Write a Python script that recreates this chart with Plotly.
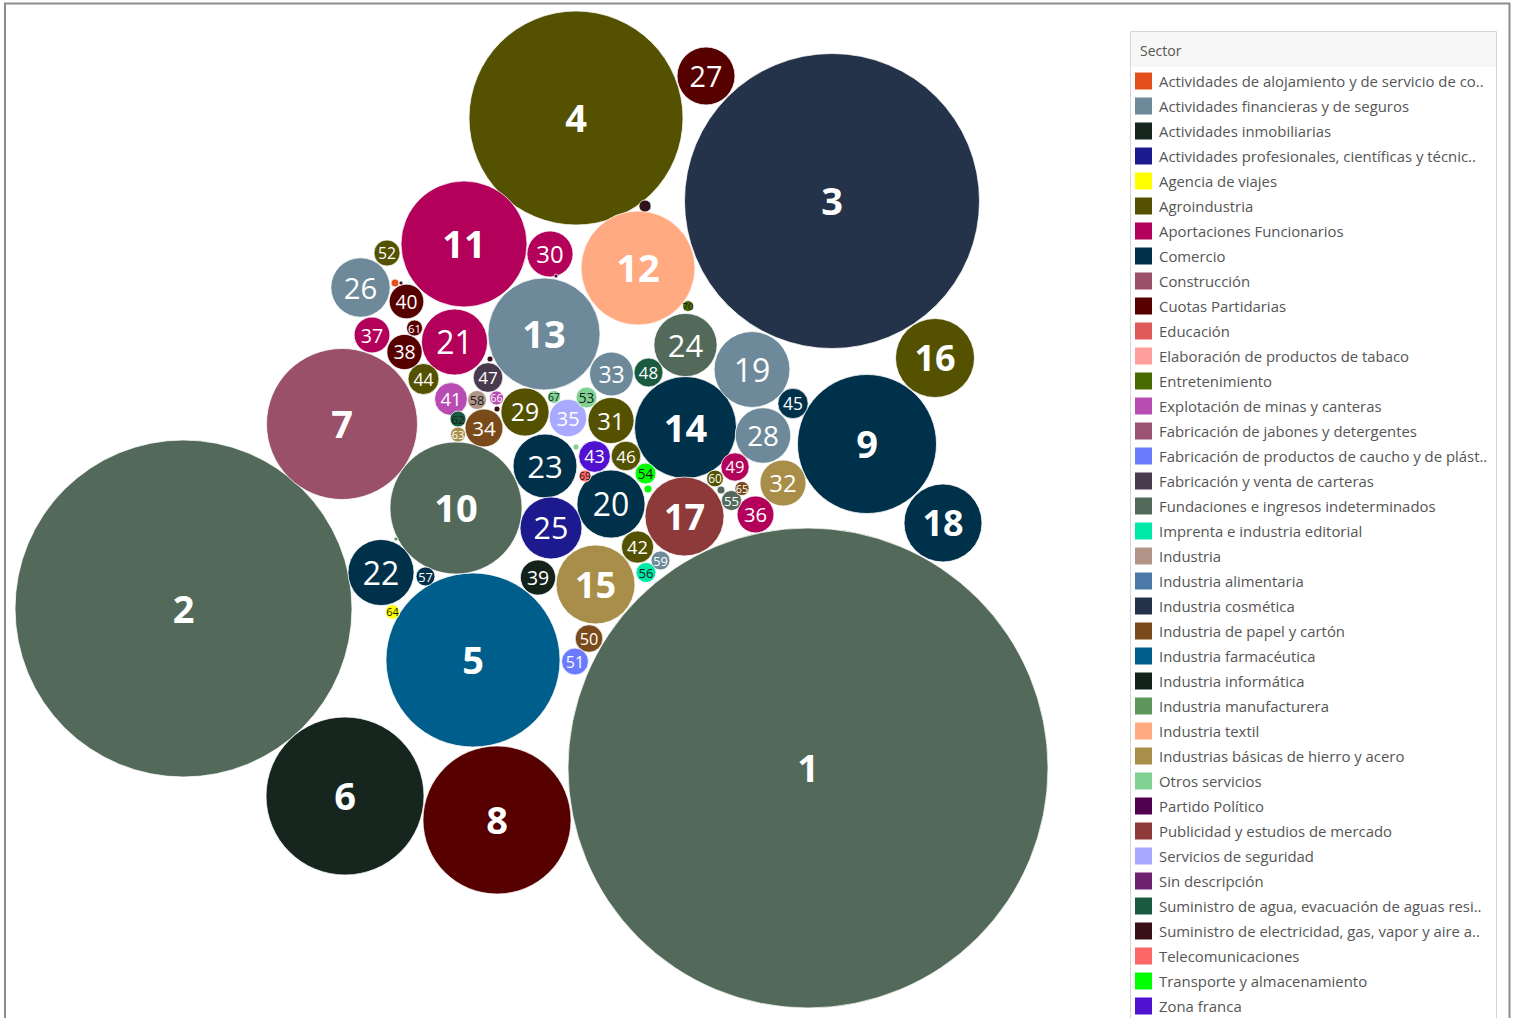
import math
import plotly.graph_objects as go

# ---------------- Legend / sector data ----------------
sectors = [
    "Actividades de alojamiento y de servicio de co..",
    "Actividades financieras y de seguros",
    "Actividades inmobiliarias",
    "Actividades profesionales, científicas y técnic..",
    "Agencia de viajes",
    "Agroindustria",
    "Aportaciones Funcionarios",
    "Comercio",
    "Construcción",
    "Cuotas Partidarias",
    "Educación",
    "Elaboración de productos de tabaco",
    "Entretenimiento",
    "Explotación de minas y canteras",
    "Fabricación de jabones y detergentes",
    "Fabricación de productos de caucho y de plást..",
    "Fabricación y venta de carteras",
    "Fundaciones e ingresos indeterminados",
    "Imprenta e industria editorial",
    "Industria",
    "Industria alimentaria",
    "Industria cosmética",
    "Industria de papel y cartón",
    "Industria farmacéutica",
    "Industria informática",
    "Industria manufacturera",
    "Industria textil",
    "Industrias básicas de hierro y acero",
    "Otros servicios",
    "Partido Político",
    "Publicidad y estudios de mercado",
    "Servicios de seguridad",
    "Sin descripción",
    "Suministro de agua, evacuación de aguas resi..",
    "Suministro de electricidad, gas, vapor y aire a..",
    "Telecomunicaciones",
    "Transporte y almacenamiento",
    "Zona franca",
]
sector_colors = [
    "#E4501B", "#6E8A9A", "#16261F", "#1C1A8E", "#FFFF00", "#545200",
    "#B3005A", "#00314A", "#9A5068", "#560000", "#E05A5C", "#FF9E9C",
    "#486A00", "#B84CB2", "#9C5272", "#6B7BFF", "#4A3A4E", "#536A5A",
    "#00E8A8", "#B09488", "#4C7AA8", "#243349", "#7A4A1A", "#005E8C",
    "#13221A", "#5E965C", "#FFAA80", "#A88E48", "#80D192", "#50004E",
    "#8E3A3A", "#A9A9FF", "#6C2270", "#1A5A40", "#3A1018", "#FF6666",
    "#00FF00", "#5012D0",
]

# ---------------- Bubble data ----------------
bubble_rank = list(range(1, 71)) + [None] * 9
bubble_sector = [
    "Fundaciones e ingresos indeterminados",          # 1
    "Fundaciones e ingresos indeterminados",          # 2
    "Industria cosmética",                            # 3
    "Agroindustria",                                  # 4
    "Industria farmacéutica",                         # 5
    "Actividades inmobiliarias",                      # 6
    "Construcción",                                   # 7
    "Cuotas Partidarias",                             # 8
    "Comercio",                                       # 9
    "Fundaciones e ingresos indeterminados",          # 10
    "Aportaciones Funcionarios",                      # 11
    "Industria textil",                               # 12
    "Actividades financieras y de seguros",           # 13
    "Comercio",                                       # 14
    "Industrias básicas de hierro y acero",           # 15
    "Agroindustria",                                  # 16
    "Publicidad y estudios de mercado",               # 17
    "Comercio",                                       # 18
    "Actividades financieras y de seguros",           # 19
    "Comercio",                                       # 20
    "Aportaciones Funcionarios",                      # 21
    "Comercio",                                       # 22
    "Comercio",                                       # 23
    "Fundaciones e ingresos indeterminados",          # 24
    "Actividades profesionales, científicas y técnic..",  # 25
    "Actividades financieras y de seguros",           # 26
    "Cuotas Partidarias",                             # 27
    "Actividades financieras y de seguros",           # 28
    "Agroindustria",                                  # 29
    "Aportaciones Funcionarios",                      # 30
    "Agroindustria",                                  # 31
    "Industrias básicas de hierro y acero",           # 32
    "Actividades financieras y de seguros",           # 33
    "Industria de papel y cartón",                    # 34
    "Servicios de seguridad",                         # 35
    "Aportaciones Funcionarios",                      # 36
    "Aportaciones Funcionarios",                      # 37
    "Cuotas Partidarias",                             # 38
    "Industria informática",                          # 39
    "Cuotas Partidarias",                             # 40
    "Explotación de minas y canteras",                # 41
    "Agroindustria",                                  # 42
    "Zona franca",                                    # 43
    "Agroindustria",                                  # 44
    "Comercio",                                       # 45
    "Agroindustria",                                  # 46
    "Fabricación y venta de carteras",                # 47
    "Suministro de agua, evacuación de aguas resi..", # 48
    "Aportaciones Funcionarios",                      # 49
    "Industria de papel y cartón",                    # 50
    "Fabricación de productos de caucho y de plást..",  # 51
    "Agroindustria",                                  # 52
    "Otros servicios",                                # 53
    "Transporte y almacenamiento",                    # 54
    "Fundaciones e ingresos indeterminados",          # 55
    "Imprenta e industria editorial",                 # 56
    "Comercio",                                       # 57
    "Industria",                                      # 58
    "Actividades financieras y de seguros",           # 59
    "Agroindustria",                                  # 60
    "Cuotas Partidarias",                             # 61
    "Suministro de agua, evacuación de aguas resi..", # 62
    "Industrias básicas de hierro y acero",           # 63
    "Agencia de viajes",                              # 64
    "Industria de papel y cartón",                    # 65
    "Explotación de minas y canteras",                # 66
    "Otros servicios",                                # 67
    "Suministro de electricidad, gas, vapor y aire a..",  # 68
    "Telecomunicaciones",                             # 69
    "Entretenimiento",                                # 70
    "Actividades de alojamiento y de servicio de co..",
    "Suministro de electricidad, gas, vapor y aire a..",
    "Suministro de electricidad, gas, vapor y aire a..",
    "Suministro de electricidad, gas, vapor y aire a..",
    "Otros servicios",
    "Transporte y almacenamiento",
    "Fundaciones e ingresos indeterminados",
    "Industria manufacturera",
    "Partido Político",
]
# area-proportional amounts
bubble_value = [
    576.0, 283.9, 217.6, 114.5, 75.7, 62.4, 57.0, 54.8, 48.3, 43.6,
    39.7, 32.5, 31.4, 26.0, 15.6, 15.6, 15.6, 15.2, 14.4, 11.6,
    10.9, 10.9, 10.2, 10.0, 9.6, 8.8, 8.4, 7.7, 5.8, 5.3,
    5.3, 5.3, 4.8, 3.6, 3.5, 3.4, 3.2, 3.1, 3.1, 3.0,
    2.7, 2.6, 2.5, 2.4, 2.3, 2.2, 2.2, 2.1, 2.0, 1.9,
    1.8, 1.7, 1.1, 1.1, 1.0, 1.0, 0.9, 0.9, 0.9, 0.7,
    0.64, 0.64, 0.56, 0.53, 0.5, 0.5, 0.42, 0.36, 0.36, 0.3,
    0.16, 0.04, 0.09, 0.09, 0.09, 0.16, 0.16, 0.04, 0.04,
]
# packed layout positions
bubble_x = [
    808, 183.5, 832, 576, 473, 345, 342, 497, 867, 456,
    464, 638, 544, 685.5, 595.5, 935, 684.5, 943, 752, 611,
    454.5, 381, 545, 685.5, 551, 360.5, 706, 763, 525, 550,
    611, 783, 611.5, 484, 568, 755.5, 372, 404.5, 538, 406.5,
    451, 637.5, 594.5, 423.5, 793, 626, 488, 648.5, 735, 589,
    575, 387, 586.5, 645.5, 731.5, 646, 425.5, 477, 660.5, 715,
    414.5, 458, 458, 392.5, 742, 496.5, 554, 645, 585, 688,
    395, 401, 490, 497, 576, 648, 721, 396, 556,
]
bubble_y = [
    768, 608.5, 201, 118, 660, 796, 424, 820, 444, 508,
    244, 268, 334, 427.5, 584.5, 358, 516.5, 523, 369.5, 504,
    342, 572.5, 466, 345, 528, 287.5, 76, 435.5, 412, 254,
    420.5, 483, 374, 428, 418, 514.5, 335, 352, 577.5, 301.5,
    399, 547, 456.5, 379, 403.5, 456, 377.5, 372.5, 467, 638.5,
    661.5, 253, 397.5, 473.5, 500.5, 572.5, 576.5, 400, 560.5, 478.5,
    328, 419, 434.5, 612, 488.5, 398, 397, 206, 476, 306,
    283, 283, 359, 409, 447, 489, 490, 539, 276,
]
dark_label_ranks = [53, 54, 56, 58, 62, 64, 67, 68, 69, 70]

W, H = 1516, 1018
color_of = dict(zip(sectors, sector_colors))


def radius(v):
    return 10.0 * math.sqrt(v)


def label_size(rank, r):
    if rank <= 14:
        return 38
    if rank <= 18:
        return 36
    return max(7, min(32, 0.82 * r + 5))


diam = [2 * radius(v) for v in bubble_value]
cols = [color_of[s] for s in bubble_sector]
texts, tsizes, tcols, ty, tx = [], [], [], [], []
for rk, v, x, y in zip(bubble_rank, bubble_value, bubble_x, bubble_y):
    if rk is None:
        continue
    r = radius(v)
    fs = label_size(rk, r)
    texts.append(f"<b>{rk}</b>" if rk <= 18 else str(rk))
    tsizes.append(fs)
    tcols.append("#1a1a1a" if rk in dark_label_ranks else "white")
    tx.append(x)
    ty.append(y + 0.11 * fs + 0.5)  # optical baseline offset of the label

fig = go.Figure()
fig.add_trace(go.Scatter(
    x=bubble_x, y=bubble_y, mode="markers",
    marker=dict(size=diam, sizemode="diameter", color=cols, opacity=1,
                line=dict(color="rgba(255,255,255,0.75)", width=1)),
    customdata=bubble_sector,
    hovertemplate="%{customdata}<extra></extra>",
    showlegend=False,
))
fig.add_trace(go.Scatter(
    x=tx, y=ty, mode="text",
    text=texts, textposition="middle center",
    textfont=dict(family="Open Sans, DejaVu Sans, sans-serif", size=tsizes, color=tcols),
    hoverinfo="skip", showlegend=False,
))

shapes = []
annotations = []
# outer frame
shapes.append(dict(type="rect", xref="x", yref="y", x0=5, y0=3.5, x1=1509.5, y1=1040,
                   line=dict(color="#8c8c8c", width=2), fillcolor="rgba(0,0,0,0)", layer="below"))
# legend box and header band
shapes.append(dict(type="rect", xref="x", yref="y", x0=1130.5, y0=31.5, x1=1496.5, y1=1040,
                   line=dict(color="#d6d6d6", width=1), fillcolor="white", layer="below"))
shapes.append(dict(type="rect", xref="x", yref="y", x0=1131, y0=32, x1=1496, y1=67,
                   line=dict(width=0), fillcolor="#f7f7f7", layer="below"))
annotations.append(dict(x=1138, y=50, xref="x", yref="y", text="Sector", showarrow=False,
                        xanchor="left", yanchor="middle",
                        font=dict(family="Open Sans, sans-serif", size=14, color="#555555")))
for i, (name, c) in enumerate(zip(sectors, sector_colors)):
    yc = 81 + 25 * i
    shapes.append(dict(type="rect", xref="x", yref="y", x0=1135, x1=1152, y0=yc - 8.5, y1=yc + 8.5,
                       line=dict(width=0), fillcolor=c))
    annotations.append(dict(x=1157, y=yc, xref="x", yref="y", text=name, showarrow=False,
                            xanchor="left", yanchor="middle",
                            font=dict(family="Open Sans, sans-serif", size=14.9, color="#555555")))

fig.update_layout(
    width=W, height=H,
    margin=dict(l=0, r=0, t=0, b=0),
    paper_bgcolor="white", plot_bgcolor="white",
    xaxis=dict(range=[0, W], visible=False, fixedrange=True),
    yaxis=dict(range=[H, 0], visible=False, fixedrange=True),
    shapes=shapes, annotations=annotations,
    showlegend=False,
)

fig.write_html(
    "out.html",
    config={"displayModeBar": False},
    post_script="document.body.style.margin='0';document.body.style.overflow='hidden';",
)
